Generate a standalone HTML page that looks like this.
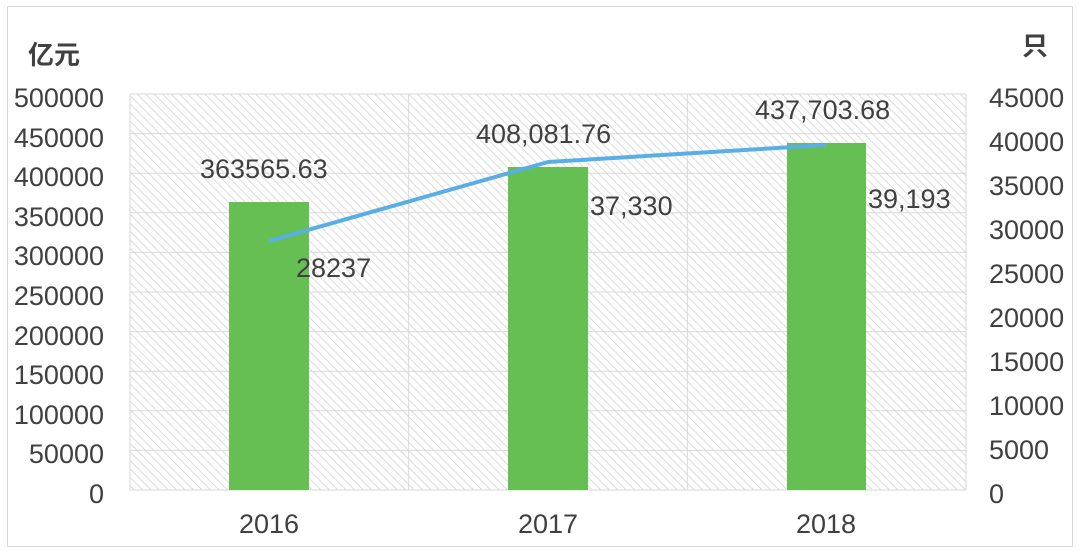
<html><body style="margin:0;background:#fff">
<svg width="1080" height="554" xmlns="http://www.w3.org/2000/svg" font-family="Liberation Sans, Noto Sans CJK SC, sans-serif" fill="#404040">
<defs><pattern id="h" width="6" height="6" patternUnits="userSpaceOnUse" patternTransform="rotate(-45)"><rect width="6" height="6" fill="#fff"/><line x1="0" y1="0" x2="0" y2="6" stroke="#d0d0d0" stroke-width="1.5"/></pattern></defs>
<rect x="7.5" y="6.5" width="1065" height="540" fill="none" stroke="#d9d9d9"/>
<rect x="130" y="94" width="836" height="396" fill="url(#h)"/>
<g stroke="#d9d9d9" stroke-width="1">
<line x1="130" x2="966" y1="94" y2="94"/><line x1="130" x2="966" y1="133.6" y2="133.6"/><line x1="130" x2="966" y1="173.2" y2="173.2"/><line x1="130" x2="966" y1="212.8" y2="212.8"/><line x1="130" x2="966" y1="252.4" y2="252.4"/><line x1="130" x2="966" y1="292" y2="292"/><line x1="130" x2="966" y1="331.6" y2="331.6"/><line x1="130" x2="966" y1="371.2" y2="371.2"/><line x1="130" x2="966" y1="410.8" y2="410.8"/><line x1="130" x2="966" y1="450.4" y2="450.4"/><line x1="130" x2="966" y1="490" y2="490"/>
<line x1="130" x2="130" y1="94" y2="490"/><line x1="408.7" x2="408.7" y1="94" y2="490"/><line x1="687.3" x2="687.3" y1="94" y2="490"/><line x1="966" x2="966" y1="94" y2="490"/>
</g>
<g fill="#66bf52"><rect x="229" y="202" width="80" height="288"/><rect x="508" y="167" width="80" height="323"/><rect x="787" y="143" width="79" height="347"/></g>
<polyline points="269,241 548,162 826,145" fill="none" stroke="#5aaee6" stroke-width="4" stroke-linejoin="round"/>
<g font-size="27" text-anchor="end">
<text x="104" y="107">500000</text><text x="104" y="147">450000</text><text x="104" y="186">400000</text><text x="104" y="226">350000</text><text x="104" y="265">300000</text><text x="104" y="305">250000</text><text x="104" y="345">200000</text><text x="104" y="384">150000</text><text x="104" y="424">100000</text><text x="104" y="463">50000</text><text x="104" y="503">0</text>
</g>
<g font-size="27">
<text x="989" y="107">45000</text><text x="989" y="151">40000</text><text x="989" y="195">35000</text><text x="989" y="239">30000</text><text x="989" y="283">25000</text><text x="989" y="327">20000</text><text x="989" y="371">15000</text><text x="989" y="415">10000</text><text x="989" y="459">5000</text><text x="989" y="503">0</text>
<text x="28" y="64" font-weight="bold" font-size="26">亿元</text><text x="1022" y="55" font-weight="bold" font-size="26">只</text>
<text x="200" y="178">363565.63</text><text x="476" y="143">408,081.76</text><text x="755" y="119">437,703.68</text>
<text x="296" y="277">28237</text><text x="590" y="215">37,330</text><text x="868" y="208">39,193</text>
</g>
<g font-size="27" text-anchor="middle"><text x="269" y="533">2016</text><text x="548" y="533">2017</text><text x="826" y="533">2018</text></g>
</svg>
</body></html>
